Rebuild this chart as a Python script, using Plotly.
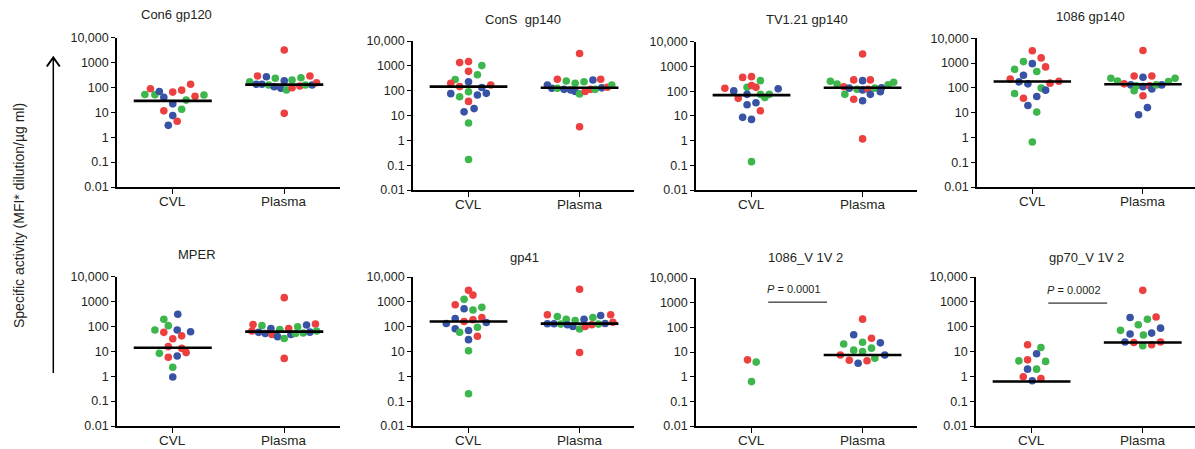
import numpy as np
import plotly.graph_objects as go

W, H = 1195, 449

CATEGORIES = ["CVL", "Plasma"]
Y_TICK_VALS = [0.01, 0.1, 1, 10, 100, 1000, 10000]
Y_TICK_TEXT = ["0.01", "0.1", "1", "10", "100", "1000", "10,000"]
TITLES = ["Con6 gp120", "ConS\u00a0 gp140", "TV1.21 gp140", "1086 gp140",
          "MPER", "gp41", "1086_V 1V 2", "gp70_V 1V 2"]

# ---------- Con6 gp120 ----------
P1_CVL_G = list("grgbbrbrbbrgrgrrg")
P1_CVL_Y = [52, 89, 51, 69, 40, 11.5, 22, 65, 7.4, 3.0, 4.4, 13.4, 78, 31, 135, 44, 50]
P1_CVL_DX = [-0.25, -0.20, -0.16, -0.12, -0.08, -0.08, 0, 0, 0, -0.04, 0.04, 0.08, 0.08, 0.12, 0.16, 0.20, 0.28]
P1_PLA_G = list("rrbgbbggbbbggrrggrrbr")
P1_PLA_Y = [3200, 290, 270, 170, 135, 135, 126, 235, 107, 187, 93, 80, 200, 98, 115, 245, 126, 290, 9.1, 126, 155]
P1_PLA_DX = [0, -0.24, -0.16, -0.31, -0.25, -0.20, -0.14, -0.08, -0.09, 0, -0.03, 0.02, 0.07, 0.07, 0.14, 0.15, 0.19, 0.23, 0, 0.25, 0.29]
P1_MED = [29, 130]

# ---------- ConS gp140 ----------
P2_CVL_G = list("rrgrggbrrrbgbgbbrbbgg")
P2_CVL_Y = [1350, 1480, 1020, 600, 440, 280, 230, 200, 146, 170, 135, 91, 76, 57, 67, 78, 37, 19, 14, 5.0, 0.17]
P2_CVL_DX = [-0.08, 0, 0.12, 0, 0.08, -0.12, 0, -0.16, -0.08, 0.20, 0.12, 0, -0.16, -0.08, 0.08, 0.16, 0, 0.05, -0.04, 0, 0]
P2_PLA_G = list("rbrgggbrbgbbbgrrgrbrg")
P2_PLA_Y = [3150, 170, 290, 245, 200, 230, 270, 290, 125, 125, 113, 107, 92, 74, 92, 113, 113, 3.5, 130, 138, 170]
P2_PLA_DX = [0, -0.29, -0.20, -0.12, -0.04, 0.04, 0.12, 0.19, -0.25, -0.20, -0.14, -0.08, -0.04, 0, 0.05, 0.10, 0.14, 0, 0.20, 0.25, 0.29]
P2_MED = [145, 131]

# ---------- TV1.21 gp140 ----------
P3_CVL_G = list("rbrrgrrgbrgggbbbrbbg")
P3_CVL_Y = [130, 102, 360, 385, 142, 170, 142, 265, 74, 51, 74, 55, 74, 125, 28, 34, 16, 8.7, 7.2, 0.14]
P3_CVL_DX = [-0.24, -0.16, -0.08, 0, -0.04, 0, 0.04, 0.08, -0.04, -0.12, 0.08, 0.12, 0.16, 0.24, -0.04, 0.04, 0.08, -0.08, 0, 0]
P3_PLA_G = list("ggrgbrrgbbbrrbgbbgrrg")
P3_PLA_Y = [250, 195, 150, 74, 132, 285, 47, 120, 265, 112, 41, 285, 120, 74, 132, 95, 138, 180, 3200, 1.17, 230]
P3_PLA_DX = [-0.29, -0.23, -0.17, -0.16, -0.12, -0.08, -0.08, -0.05, 0, 0, 0, 0.07, 0.05, 0.07, 0.11, 0.16, 0.17, 0.23, 0, 0, 0.28]
P3_MED = [69, 138]

# ---------- 1086 gp140 ----------
P4_CVL_G = list("rrgbrggbrbbrrgbgrbbgg")
P4_CVL_Y = [3160, 1620, 1150, 950, 700, 560, 460, 325, 225, 175, 145, 155, 185, 98, 81, 59, 38, 45, 19.5, 10.5, 0.65]
P4_CVL_DX = [0, 0.08, -0.08, 0, 0.12, -0.16, 0.04, -0.08, -0.20, -0.12, -0.04, 0.16, 0.24, 0.08, 0.12, -0.16, -0.08, 0.04, -0.04, 0.04, 0]
P4_PLA_G = list("rggrrbggbbrrbgbggrbb")
P4_PLA_Y = [3200, 245, 190, 145, 300, 132, 120, 76, 270, 112, 300, 120, 91, 132, 132, 180, 245, 48, 16, 8.2]
P4_PLA_DX = [0, -0.29, -0.23, -0.17, -0.08, -0.11, -0.06, -0.08, 0, 0, 0.08, 0.06, 0.08, 0.12, 0.17, 0.23, 0.29, 0, 0.04, -0.04]
P4_MED = [180, 140]

# ---------- MPER ----------
P5_CVL_G = list("bgggbrbrrrrgrrbgb")
P5_CVL_Y = [310, 195, 108, 72, 72, 58, 61, 42, 32, 15.5, 13.2, 8.3, 8.9, 5.8, 6.5, 2.3, 0.93]
P5_CVL_DX = [0.045, -0.08, -0.04, -0.16, 0.04, -0.08, 0.16, 0.08, 0, -0.04, 0.08, -0.12, 0.12, -0.04, 0.04, 0, 0]
P5_PLA_G = list("rrgrbbbrbgrgbggbgrbrg")
P5_PLA_Y = [1440, 120, 108, 66, 58, 52, 83, 48, 39, 76, 83, 33, 48, 98, 52, 115, 55, 5.2, 59, 125, 66]
P5_PLA_DX = [0, -0.28, -0.20, -0.29, -0.23, -0.17, -0.12, -0.11, -0.06, -0.04, 0.04, 0, 0.06, 0.12, 0.10, 0.20, 0.17, 0, 0.23, 0.28, 0.29]
P5_MED = [14, 62]

# ---------- gp41 ----------
P6_CVL_G = list("rrgrbggrbrrbbbggbrbgg")
P6_CVL_Y = [2900, 1870, 1260, 760, 530, 600, 470, 235, 213, 162, 190, 135, 148, 82, 95, 60, 70, 41, 30, 10.7, 0.2]
P6_CVL_DX = [0, 0.04, -0.04, -0.12, -0.04, 0.12, 0.04, 0.12, -0.12, -0.04, 0.04, -0.20, 0.16, -0.12, 0.08, -0.08, 0, 0.08, 0, 0, 0]
P6_PLA_G = list("rrgbbggbbgbgrgrbgrrbr")
P6_PLA_Y = [3200, 300, 255, 131, 131, 200, 127, 120, 102, 178, 200, 80, 102, 235, 120, 280, 127, 9.1, 300, 135, 150]
P6_PLA_DX = [0, -0.29, -0.20, -0.29, -0.23, -0.12, -0.17, -0.11, -0.06, -0.04, 0.04, 0, 0.05, 0.12, 0.11, 0.19, 0.17, 0, 0.28, 0.23, 0.30]
P6_MED = [162, 132]

# ---------- 1086_V1V2 ----------
P7_CVL_G = list("rgg")
P7_CVL_Y = [4.8, 3.9, 0.63]
P7_CVL_DX = [-0.036, 0.042, 0]
P7_PLA_G = list("rbrggbgggrbgrrb")
P7_PLA_Y = [215, 50, 36, 21, 25, 23.5, 14.3, 11.9, 10.4, 7.6, 7.6, 5.6, 4.6, 4.4, 3.5]
P7_PLA_DX = [0, -0.08, 0.08, -0.17, 0, 0.16, 0.08, -0.08, 0, -0.20, 0.20, 0.11, -0.12, 0.04, -0.04]
P7_MED = [None, 7.6]
P7_P_VALUE = "0.0001"
P7_P_BAR = 1050

# ---------- gp70_V1V2 ----------
P8_CVL_G = list("rgbgrgbgrbr")
P8_CVL_Y = [18.6, 14.5, 8.1, 4.2, 4.6, 4.0, 1.95, 1.95, 0.96, 0.66, 0.81]
P8_CVL_DX = [-0.036, 0.084, 0.045, -0.114, -0.036, 0.126, -0.036, 0.045, -0.075, 0.006, 0.084]
P8_PLA_G = list("rbrgggbbgbbrrgr")
P8_PLA_Y = [2900, 235, 245, 200, 120, 71, 87, 51, 46, 55, 24, 23, 24, 17, 18.6]
P8_PLA_DX = [0, -0.114, 0.12, 0.042, -0.04, -0.20, 0.16, -0.114, 0.006, 0.08, -0.16, -0.08, 0.16, 0, 0.08]
P8_MED = [0.62, 23]
P8_P_VALUE = "0.0002"
P8_P_BAR = 890

PANELS = [
    (P1_CVL_DX, P1_CVL_Y, P1_CVL_G, P1_PLA_DX, P1_PLA_Y, P1_PLA_G, P1_MED, None, None),
    (P2_CVL_DX, P2_CVL_Y, P2_CVL_G, P2_PLA_DX, P2_PLA_Y, P2_PLA_G, P2_MED, None, None),
    (P3_CVL_DX, P3_CVL_Y, P3_CVL_G, P3_PLA_DX, P3_PLA_Y, P3_PLA_G, P3_MED, None, None),
    (P4_CVL_DX, P4_CVL_Y, P4_CVL_G, P4_PLA_DX, P4_PLA_Y, P4_PLA_G, P4_MED, None, None),
    (P5_CVL_DX, P5_CVL_Y, P5_CVL_G, P5_PLA_DX, P5_PLA_Y, P5_PLA_G, P5_MED, None, None),
    (P6_CVL_DX, P6_CVL_Y, P6_CVL_G, P6_PLA_DX, P6_PLA_Y, P6_PLA_G, P6_MED, None, None),
    (P7_CVL_DX, P7_CVL_Y, P7_CVL_G, P7_PLA_DX, P7_PLA_Y, P7_PLA_G, P7_MED, P7_P_VALUE, P7_P_BAR),
    (P8_CVL_DX, P8_CVL_Y, P8_CVL_G, P8_PLA_DX, P8_PLA_Y, P8_PLA_G, P8_MED, P8_P_VALUE, P8_P_BAR),
]

# ---------- styling / geometry ----------
COLORS = {"r": "#EC4040", "g": "#3DB64C", "b": "#3853A3"}
FONT = "Liberation Sans, Arial, Helvetica, sans-serif"
TXT = "#231F20"
# pixel boxes: x0, x1, y_top(10,000), y_bottom(0.01), x range max
BOXES = [
    (117, 340, 37.7, 187, 1.5), (413, 634, 41, 190, 1.49), (696, 917, 41.7, 190, 1.49), (977, 1195, 38.3, 187, 1.47),
    (117, 340, 276.7, 426, 1.5), (413, 634, 277, 426, 1.49), (696, 917, 278, 426, 1.49), (976, 1195, 277, 426, 1.47),
]
TITLE_POS = [(176, 15), (523, 19), (807, 20), (1090, 16), (197, 254), (524, 257), (805, 257), (1086, 257)]
CAT_LABEL_GAP = 14.5  # px below the x axis line
P_BAR_X = (0.15, 0.68)
MED_HALF = 0.35

fig = go.Figure()
layout = dict(width=W, height=H, autosize=False,
              margin=dict(l=0, r=0, t=0, b=0, pad=0, autoexpand=False),
              paper_bgcolor="white", plot_bgcolor="white", showlegend=False,
              font=dict(family=FONT, color=TXT, size=13))
annotations = []

for i, (panel, box) in enumerate(zip(PANELS, BOXES), start=1):
    cdx, cy, cg, pdx, py, pg, med, pval, pbar = panel
    x0, x1, yt, yb, xr = box
    xa, ya = f"x{i}", f"y{i}"
    for cat, dxs, ys, gs in ((0, cdx, cy, cg), (1, pdx, py, pg)):
        fig.add_trace(go.Scatter(
            x=[cat + d for d in dxs], y=ys, mode="markers", xaxis=xa, yaxis=ya,
            marker=dict(size=7.6, color=[COLORS[g] for g in gs], line=dict(width=0)),
            hoverinfo="y"))
    for cat, m in enumerate(med):
        if m is None:
            continue
        fig.add_trace(go.Scatter(x=[cat - MED_HALF, cat + MED_HALF], y=[m, m], mode="lines",
                                 xaxis=xa, yaxis=ya, line=dict(color="black", width=2.6),
                                 hoverinfo="skip"))
    if pval:
        fig.add_trace(go.Scatter(x=list(P_BAR_X), y=[pbar, pbar], mode="lines",
                                 xaxis=xa, yaxis=ya, line=dict(color="black", width=1),
                                 hoverinfo="skip"))
        annotations.append(dict(x=sum(P_BAR_X) / 2 - 0.03, y=np.log10(pbar), xref=xa, yref=ya,
                                text="<i>P</i> = " + pval, showarrow=False,
                                yshift=13, font=dict(size=11, color=TXT)))
    sfx = "" if i == 1 else str(i)
    layout["xaxis" + sfx] = dict(
        domain=[x0 / W, x1 / W], range=[-0.5, xr], anchor=ya, automargin=False,
        tickvals=[0, 1], showticklabels=False, showgrid=False, zeroline=False,
        showline=True, linecolor="black", linewidth=1.6, ticks="outside", ticklen=5,
        tickwidth=1.4, tickcolor="black", fixedrange=True)
    layout["yaxis" + sfx] = dict(
        domain=[1 - yb / H, 1 - yt / H], type="log", range=[-2, 4], anchor=xa, automargin=False,
        tickvals=Y_TICK_VALS, ticktext=Y_TICK_TEXT, showgrid=False, zeroline=False,
        showline=True, linecolor="black", linewidth=1.6, ticks="outside", ticklen=4,
        tickwidth=1.4, tickcolor="black", tickfont=dict(size=12.5, color=TXT), fixedrange=True)
    for cat, lab in enumerate(CATEGORIES):
        annotations.append(dict(x=cat, y=1 - (yb + CAT_LABEL_GAP) / H, xref=xa, yref="paper",
                                text=lab, showarrow=False, xanchor="center", yanchor="middle",
                                font=dict(size=13.5, color=TXT)))
    tx, ty = TITLE_POS[i - 1]
    annotations.append(dict(x=tx / W, y=1 - ty / H, xref="paper", yref="paper",
                            text=TITLES[i - 1], showarrow=False, xanchor="center", yanchor="middle",
                            font=dict(size=13, color=TXT)))

annotations.append(dict(x=19 / W, y=1 - 216 / H, xref="paper", yref="paper",
                        text="Specific activity (MFI* dilution/µg ml)", textangle=-90,
                        showarrow=False, xanchor="center", yanchor="middle",
                        font=dict(size=14, color=TXT)))
layout["annotations"] = annotations


def P(px, py):
    return f"{px / W:.5f},{1 - py / H:.5f}"


layout["shapes"] = [
    dict(type="line", xref="paper", yref="paper", x0=53.3 / W, x1=53.3 / W,
         y0=1 - 373 / H, y1=1 - 58 / H, line=dict(color="black", width=1.5)),
    dict(type="path", xref="paper", yref="paper",
         path=f"M{P(46.8, 66.5)} L{P(53.3, 57.5)} L{P(59.8, 66.5)}",
         line=dict(color="black", width=2)),
]

fig.update_layout(**layout)
fig.write_html("out.html", config={"displayModeBar": False, "staticPlot": False},
               post_script="document.body.style.margin='0';document.body.style.overflow='hidden';")
